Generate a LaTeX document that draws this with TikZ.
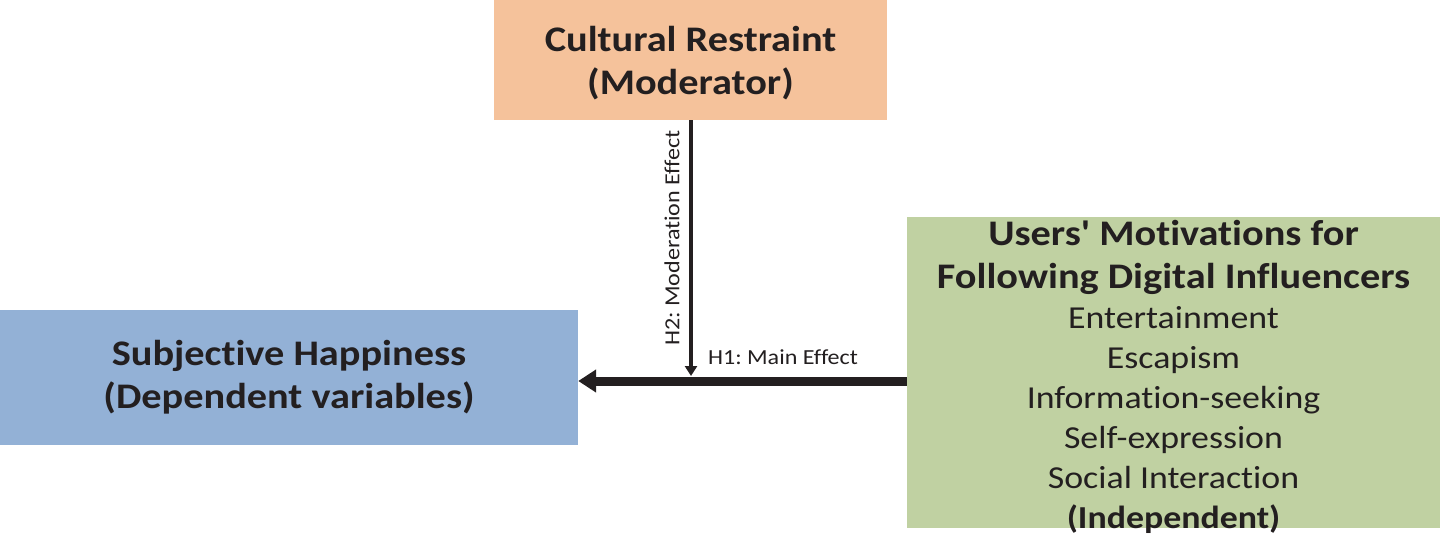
\documentclass[tikz,border=0pt]{standalone}
\usepackage{fontspec}
\setmainfont{Carlito}[FakeStretch=1.12, Ligatures={CommonOff,TeXOff}]
\usetikzlibrary{arrows.meta}
\definecolor{orangebox}{HTML}{F5C29B}
\definecolor{bluebox}{HTML}{93B1D6}
\definecolor{greenbox}{HTML}{C0D1A2}
\definecolor{ink}{HTML}{231F20}
\frenchspacing
\tikzset{
  box/.style={rectangle, inner sep=0pt, draw=none, align=center, text=ink},
  title/.style={font=\fontsize{36}{43}\selectfont\bfseries},
  lbl/.style={font=\fontsize{21.5}{25}\selectfont, text=ink, inner sep=0pt},
}
\begin{document}
\begin{tikzpicture}[x=1pt,y=-1pt]
\useasboundingbox (0,0) rectangle (1442,533);
\node[box, fill=orangebox, minimum width=393pt, minimum height=120pt] (mod) at (690.5,60) {};
\node[box, title] (modtxt) at (690.5,63) {Cultural Restraint\\(Moderator)};
\node[box, fill=bluebox, minimum width=578pt, minimum height=135pt, title] (dep) at (289,377.5) {Subjective Happiness\\(Dependent variables)};
\node[box, fill=greenbox, minimum width=533pt, minimum height=311pt] (ind) at (1173.5,372.5) {};
\node[box, anchor=north, inner sep=0pt, font=\fontsize{32}{40}\selectfont] (indtxt) at ([yshift=-3pt]ind.north)
  {{\fontsize{36}{45}\selectfont\bfseries Users' Motivations for}\\[3pt]
   {\fontsize{36}{45}\selectfont\bfseries Following Digital Influencers}\\
   Entertainment\\ Escapism\\ Information-seeking\\ Self-expression\\ Social Interaction\\
   {\bfseries (Independent)}};
\coordinate (hstart) at (ind.west |- 0,381);
\coordinate (hend) at (dep.east |- 0,381);
\coordinate (join) at (691,376);
\draw[line width=9pt, ink, -{Triangle[length=18pt,width=22pt]}] (hstart) -- (hend);
\draw[line width=3.5pt, ink, -{Triangle[length=10pt,width=12pt]}] (mod.south -| join) -- (join);
\node[lbl, rotate=90] (h2) at (672,238) {H2: Moderation Effect};
\node[lbl] (h1) at (783,357) {H1: Main Effect};
\end{tikzpicture}
\end{document}
